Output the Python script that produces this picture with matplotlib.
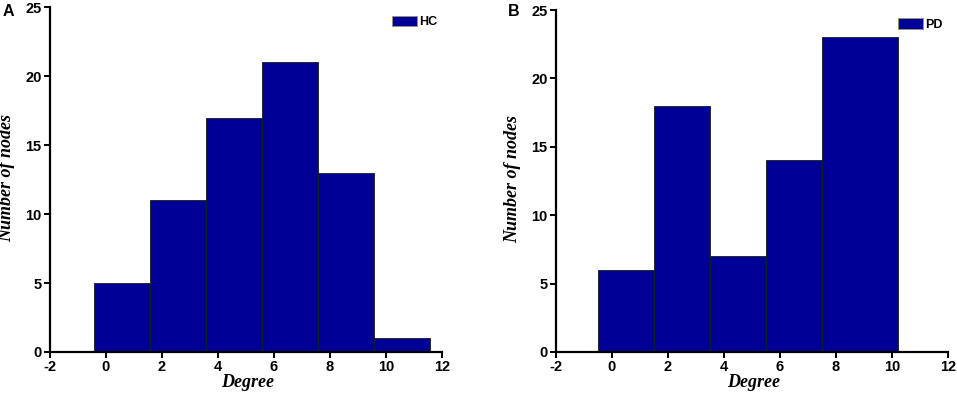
import matplotlib.pyplot as plt
import numpy as np

# bin edges and counts
hc_edges = [-0.42, 1.58, 3.58, 5.58, 7.58, 9.58, 11.58]
hc_counts = [5, 11, 17, 21, 13, 1]
pd_edges = [-0.5, 1.5, 3.5, 5.5, 7.5, 10.22]
pd_counts = [6, 18, 7, 14, 23]

x_ticks = [-2, 0, 2, 4, 6, 8, 10, 12]
y_ticks = [0, 5, 10, 15, 20, 25]

BAR = '#000096'
plt.rcParams['axes.unicode_minus'] = False


def panel(fig, rect, edges, counts, name, letter, letter_x):
    ax = fig.add_axes(rect)
    edges = np.array(edges)
    ax.bar(edges[:-1], counts, width=np.diff(edges), align='edge',
           color=BAR, edgecolor='#1a1a1a', linewidth=0.6, label=name, zorder=2)
    ax.set_xlim(-2, 12)
    ax.set_ylim(0, 25)
    ax.set_xticks(x_ticks)
    ax.set_yticks(y_ticks)
    for s in ['top', 'right']:
        ax.spines[s].set_visible(False)
    for s in ['left', 'bottom']:
        ax.spines[s].set_linewidth(1.6)
    ax.tick_params(direction='out', length=4.5, width=1.4, pad=1.5)
    for lab in ax.get_xticklabels() + ax.get_yticklabels():
        lab.set_fontweight('bold')
        lab.set_fontsize(10.5)
        lab.set_family('Liberation Sans')
    lf = dict(family='Liberation Serif', weight='bold', style='italic', size=13)
    ax.set_xlabel('Degree', fontdict=lf)
    ax.set_ylabel('Number of nodes', fontdict=lf)
    ax.xaxis.set_label_coords(0.505, -0.065)
    ax.yaxis.set_label_coords(-0.089, 0.505)
    leg = ax.legend(loc='upper left', bbox_to_anchor=(0.86, 0.99), frameon=False,
                    handlelength=2.0, handleheight=0.88, handletextpad=0.2,
                    borderpad=0, borderaxespad=0.4,
                    prop=dict(family='Liberation Sans', weight='bold', size=9))
    leg.get_patches()[0].set_edgecolor('#9a9070')
    fig.text(letter_x, 0.99, letter, family='Liberation Sans', weight='bold',
             size=11.5, ha='left', va='top')
    return ax


def main():
    fig = plt.figure(figsize=(9.57, 3.94), dpi=100)
    panel(fig, [0.0522, 0.1066, 0.4096, 0.875], hc_edges, hc_counts, 'HC', 'A', 0.003)
    panel(fig, [0.581, 0.1066, 0.4093, 0.868], pd_edges, pd_counts, 'PD', 'B', 0.531)
    fig.savefig('out.png', dpi=100)


if __name__ == '__main__':
    main()
